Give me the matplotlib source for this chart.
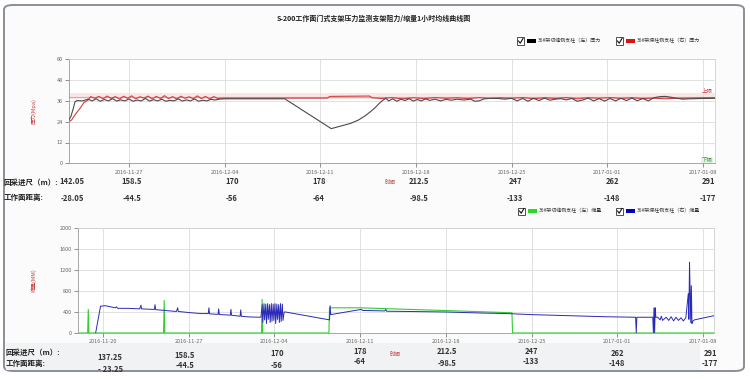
import matplotlib
matplotlib.use("Agg")
import matplotlib.pyplot as plt
from matplotlib.patches import Rectangle, FancyBboxPatch
from matplotlib.lines import Line2D

plt.rcParams['font.family'] = ['Noto Sans CJK SC', 'DejaVu Sans']

# ---------------- data ----------------
# time axis: day offset from 2016-10-31 (Nov d -> d, Dec d -> 30+d, Jan d -> 61+d)
title = "S-200工作面门式支架压力监测支架阻力/缩量1小时均线曲线图"
date_ticks = [27, 34, 41, 48, 55, 62, 69]
date_labels = ["2016-11-27", "2016-12-04", "2016-12-11", "2016-12-18",
               "2016-12-25", "2017-01-01", "2017-01-08"]
bottom_ticks = [20, 27, 34, 41, 48, 55, 62, 69]
bottom_labels = ["2016-11-20"] + date_labels

press_left_t = [22.6, 22.75, 22.9, 23.05, 23.2, 23.6, 24.0, 24.3, 24.6, 24.9, 25.2, 25.5, 25.8,
                26.1, 26.4, 26.7, 27.0, 27.3, 27.6, 27.9, 28.2, 28.5, 28.8, 29.1, 29.4, 29.7,
                30.0, 30.3, 30.6, 30.9, 31.2, 31.5, 31.8, 32.1, 32.4, 32.7, 33.0, 33.3, 33.6,
                34.0, 36.0, 38.4, 41.8, 42.5, 43.2, 43.8, 44.3, 44.7, 45.0, 45.3, 45.6, 45.8,
                46.0, 46.3, 46.6, 46.9, 47.2, 47.5, 47.8, 48.1, 48.4, 48.7, 49.0, 49.4, 49.8,
                50.2, 50.6, 51.0, 51.5, 52.0, 52.3, 52.6, 53.0, 53.5, 54.0, 54.5, 55.0, 55.4,
                55.8, 56.2, 56.6, 57.0, 57.4, 57.8, 58.2, 58.6, 59.0, 59.4, 59.8, 60.2, 60.6,
                61.0, 61.4, 61.8, 62.2, 62.6, 63.0, 63.4, 63.8, 64.2, 64.6, 65.0, 65.4, 65.8,
                66.2, 66.6, 67.0, 67.5, 68.0, 69.0, 69.9]
press_left_v = [25, 27, 31, 35.5, 36.2, 36.0, 37.0, 36.0, 37.2, 35.8, 36.8, 36.0, 37.3,
                35.9, 36.6, 36.0, 37.1, 35.8, 36.5, 36.0, 37.4, 35.9, 36.7, 36.0, 37.0, 35.8,
                36.3, 36.0, 37.2, 35.9, 36.6, 36.0, 37.1, 35.8, 36.4, 36.0, 36.9, 36.5, 37.0,
                37.2, 37.2, 37.2, 20.0, 21.5, 23.0, 25.0, 27.5, 30.0, 32.0, 34.5, 36.5, 37.5,
                36.0, 37.2, 35.8, 37.0, 36.2, 37.3, 35.9, 36.8, 36.0, 37.2, 36.3, 37.0, 36.0,
                36.9, 36.4, 37.0, 36.5, 37.0, 35.8, 36.0, 37.2, 37.5, 37.4, 37.0, 37.5, 36.0,
                37.4, 35.8, 37.5, 36.2, 37.6, 36.4, 37.0, 37.3, 36.6, 37.4, 35.8, 36.5, 37.6,
                36.0, 37.3, 35.9, 37.4, 36.0, 37.5, 36.2, 37.6, 36.1, 37.4, 36.0, 37.8, 38.4,
                38.6, 38.2, 37.6, 37.0, 37.2, 37.4, 37.5]

press_right_t = [22.6, 22.8, 23.1, 23.4, 23.7, 24.0, 24.2, 24.5, 24.8, 25.1, 25.4, 25.7, 26.0,
                 26.3, 26.6, 26.9, 27.2, 27.5, 27.8, 28.1, 28.4, 28.7, 29.0, 29.3, 29.6, 29.9,
                 30.2, 30.5, 30.8, 31.1, 31.4, 31.7, 32.0, 32.3, 32.6, 32.9, 33.2, 33.5, 34.0,
                 41.5, 41.7, 44.6, 44.8, 45.5, 46.2, 47.0, 47.8, 48.6, 49.4, 50.2, 51.0, 51.8,
                 52.6, 53.4, 54.2, 55.0, 55.8, 56.6, 57.4, 58.2, 59.0, 59.8, 60.6, 61.4, 62.2,
                 63.0, 63.8, 64.6, 65.4, 66.2, 67.0, 67.8, 68.6, 69.9]
press_right_v = [24, 25, 28.5, 31.5, 35.0, 36.5, 38.5, 37.5, 38.6, 37.2, 38.8, 37.4, 38.5,
                 37.0, 38.7, 37.5, 38.9, 37.2, 38.4, 37.6, 38.8, 37.1, 38.6, 37.4, 39.0, 37.3,
                 38.5, 37.0, 38.7, 37.5, 38.4, 37.2, 38.9, 37.3, 38.6, 37.0, 38.5, 37.4, 37.6,
                 37.6, 38.6, 38.8, 37.8, 37.4, 37.9, 37.2, 37.8, 37.3, 37.9, 37.5, 37.8, 37.3,
                 37.9, 37.4, 37.8, 37.5, 37.9, 37.3, 37.8, 37.4, 37.9, 37.2, 37.8, 37.5, 37.9,
                 37.4, 37.8, 37.3, 37.6, 37.2, 37.5, 37.6, 37.7, 37.8]

upper_limit = 38.3

disp_right_t = [19.4, 19.8, 20.2, 20.6, 21.0, 21.1, 21.2, 22.0, 23.0, 23.1, 23.15, 24.0,
                24.2, 24.25, 24.3, 25.0, 26.0, 26.1, 26.15, 27.0, 28.0, 28.6, 28.65, 28.7,
                29.4, 29.45, 29.5, 30.4, 30.45, 30.5, 31.2, 31.25, 31.3, 32.0, 32.9, 33.0, 33.05,
                33.15, 33.2, 33.3, 33.35, 33.45, 33.5, 33.6, 33.65, 33.75, 33.8, 33.9, 33.95,
                34.05, 34.1, 34.2, 34.25, 34.35, 34.4, 34.5, 34.55, 34.65, 34.7, 34.8, 34.9,
                38.5, 38.55, 38.6, 41.1, 41.2, 43.0, 43.1, 43.15, 45.0, 48.0, 51.0, 53.0, 55.0,
                58.0, 61.0, 63.5, 63.55, 63.6, 64.0, 64.9, 64.95, 65.0, 65.05, 65.1, 65.15,
                65.3, 65.5, 65.6, 65.7, 66.0, 66.2, 66.4, 66.6, 66.8, 67.0, 67.2, 67.4, 67.6,
                67.8, 67.85, 67.9, 68.0, 68.05, 68.1, 68.15, 68.3, 69.9]
disp_right_v = [0, 510, 520, 500, 480, 500, 470, 470, 460, 530, 460, 450,
                450, 540, 445, 430, 410, 480, 410, 390, 370, 370, 480, 365,
                355, 460, 352, 340, 450, 338, 320, 440, 318, 305, 300, 540, 200,
                560, 250, 550, 180, 560, 260, 540, 200, 560, 220, 550, 240,
                560, 180, 550, 260, 540, 200, 560, 220, 550, 240, 400, 400,
                250, 520, 350, 450, 430, 420, 450, 415, 410, 400, 380, 370, 350,
                330, 310, 300, 0, 300, 300, 300, 0, 480, 0, 480, 300,
                300, 250, 320, 240, 300, 240, 310, 230, 300, 240, 290, 230, 290,
                750, 260, 1350, 200, 900, 180, 220, 250, 330]

disp_left_t = [18.0, 18.75, 18.8, 18.85, 24.95, 25.0, 25.05, 32.95, 33.0, 33.05, 38.45, 38.5,
               41.0, 45.0, 49.0, 53.4, 53.45, 55.5, 69.9]
disp_left_v = [0, 0, 450, 0, 0, 620, 0, 0, 640, 0, 0, 480, 480, 450, 420, 385, 0, 0, 0]

table1_x = [72, 132, 232, 319, 419, 515, 612, 708]
dist1 = ["142.05", "158.5", "170", "178", "212.5", "247", "262", "291"]
face1 = ["-28.05", "-44.5", "-56", "-64", "-98.5", "-133", "-148", "-177"]
table2_x = [110, 185, 277, 360, 447, 531, 617, 710]
dist2 = ["137.25", "158.5", "170", "178", "212.5", "247", "262", "291"]
face2 = ["- 23.25", "-44.5", "-56", "-64", "-98.5", "-133", "-148", "-177"]

legend_top = ["36#架切缝侧支柱（左）压力", "36#架煤柱侧支柱（右）压力"]
legend_bot = ["36#架切缝侧支柱（左）缩量", "36#架煤柱侧支柱（右）缩量"]

# ---------------- figure ----------------
W, H = 750, 379
fig = plt.figure(figsize=(W / 100, H / 100), dpi=100)
fig.patch.set_facecolor("white")


def fx(x):
    return x / W


def fy(y):
    return 1 - y / H


frame = FancyBboxPatch((fx(4), fy(371)), fx(740), (370 - 4) / H,
                       boxstyle="round,pad=0,rounding_size=0.012",
                       transform=fig.transFigure, facecolor="#fbfbfc",
                       edgecolor="#8a8f96", linewidth=1.4, zorder=-10)
fig.patches.append(frame)

fig.text(fx(374), fy(18), title, ha="center", va="center", fontsize=5,
         fontweight="bold", color="#222222")

grid_c = "#dcdcdc"
tick_c = "#666666"


def style_ax(ax):
    ax.set_facecolor("white")
    for s in ax.spines.values():
        s.set_color("#d0d0d0")
        s.set_linewidth(0.6)
    ax.spines["left"].set_color("#9a9a9a")
    ax.spines["bottom"].set_color("#9a9a9a")
    ax.tick_params(axis="both", labelsize=4, colors=tick_c, length=3, width=0.5, pad=1.5)
    ax.grid(True, color=grid_c, linewidth=0.6)
    ax.set_axisbelow(True)


# ---------- top axes ----------
ax1 = fig.add_axes([fx(69), fy(163.3), fx(715 - 69), (163.3 - 59.3) / H])
style_ax(ax1)
ax1.set_xlim(22.61, 69.88)
ax1.set_ylim(0, 60)
ax1.set_yticks([0, 12, 24, 36, 48, 60])
ax1.set_xticks(date_ticks)
ax1.set_xticklabels(date_labels)
ax1.axhspan(37.3, 40.6, color="#fbe6e6", zorder=0.5, lw=0)
ax1.axhline(upper_limit, color="#e9a3a3", lw=0.8, zorder=1)
ax1.plot(press_left_t, press_left_v, color="#4a4a4a", lw=0.8, zorder=3)
ax1.plot(press_right_t, press_right_v, color="#d04040", lw=0.8, zorder=2)
ax1.text(69.7, 40.2, "上限", color="#d04040", fontsize=4, ha="right", va="bottom")
ax1.text(69.7, 0.5, "下限", color="#3a9a3a", fontsize=4, ha="right", va="bottom",
         bbox=dict(facecolor="#e3f3e3", edgecolor="none", pad=0.5))
ax1.set_ylabel("压力(Mpa)", fontsize=4, color="#c04040", labelpad=14)

# ---------- bottom axes ----------
ax2 = fig.add_axes([fx(78), fy(333), fx(714 - 78), (333 - 228) / H])
style_ax(ax2)
ax2.set_xlim(17.96, 69.9)
ax2.set_ylim(0, 2000)
ax2.set_yticks([0, 400, 800, 1200, 1600, 2000])
ax2.set_xticks(bottom_ticks)
ax2.set_xticklabels(bottom_labels)
ax2.plot(disp_left_t, disp_left_v, color="#33cc33", lw=0.8, zorder=2)
ax2.plot(disp_right_t, disp_right_v, color="#2a2ab8", lw=0.7, zorder=3)
ax2.set_ylabel("缩量(MM)", fontsize=4, color="#c04040", labelpad=16)

# ---------- tables ----------
row_lbl_kw = dict(fontsize=5.4, fontweight="bold", color="#222222", va="center", ha="left")
val_kw = dict(fontsize=5.5, fontweight="bold", color="#333333", va="center", ha="center")

fig.text(fx(4), fy(182), "回采进尺（m）:", **row_lbl_kw)
fig.text(fx(4), fy(197), "工作面距离:", **row_lbl_kw)
for x, a, b in zip(table1_x, dist1, face1):
    fig.text(fx(x), fy(182), a, **val_kw)
    fig.text(fx(x), fy(198), b, **val_kw)
fig.text(fx(390), fy(182), "时间", fontsize=4, color="#c04040", va="center", ha="center")

fig.patches.append(Rectangle((fx(6), fy(370)), fx(694), (370 - 343) / H,
                             transform=fig.transFigure, facecolor="#f1f2f3",
                             edgecolor="none", zorder=-5))
fig.text(fx(6), fy(352), "回采进尺（m）:", **row_lbl_kw)
fig.text(fx(6), fy(363), "工作面距离:", **row_lbl_kw)
dy1 = [357, 355, 354, 351, 352, 352, 354, 354]
dy2 = [370, 366, 365, 361, 364, 362, 364, 363]
for x, a, b, y1, y2 in zip(table2_x, dist2, face2, dy1, dy2):
    fig.text(fx(x), fy(y1), a, **val_kw)
    fig.text(fx(x), fy(y2), b, **val_kw)
fig.text(fx(395), fy(354), "时间", fontsize=4, color="#c04040", va="center", ha="center")


def checkbox(x, y):
    fig.patches.append(Rectangle((fx(x), fy(y + 3.5)), fx(7), 7 / H, transform=fig.transFigure,
                                 facecolor="white", edgecolor="#333333", linewidth=0.6))
    fig.lines.append(Line2D([fx(x + 1.5), fx(x + 3.2), fx(x + 6)],
                            [fy(y), fy(y + 2.2), fy(y - 2.5)], transform=fig.transFigure,
                            color="#111111", linewidth=0.8))


def legend_item(x, y, color, label):
    checkbox(x, y)
    fig.patches.append(Rectangle((fx(x + 10), fy(y + 2)), fx(9), 4 / H, transform=fig.transFigure,
                                 facecolor=color, edgecolor="none"))
    fig.text(fx(x + 21), fy(y), label, fontsize=3.6, color="#333333", va="center", ha="left")


legend_item(517, 41, "#000000", legend_top[0])
legend_item(616, 41, "#dd1111", legend_top[1])
legend_item(518, 211, "#22dd22", legend_bot[0])
legend_item(616, 211, "#0000bb", legend_bot[1])

fig.savefig("out.png", dpi=100)
